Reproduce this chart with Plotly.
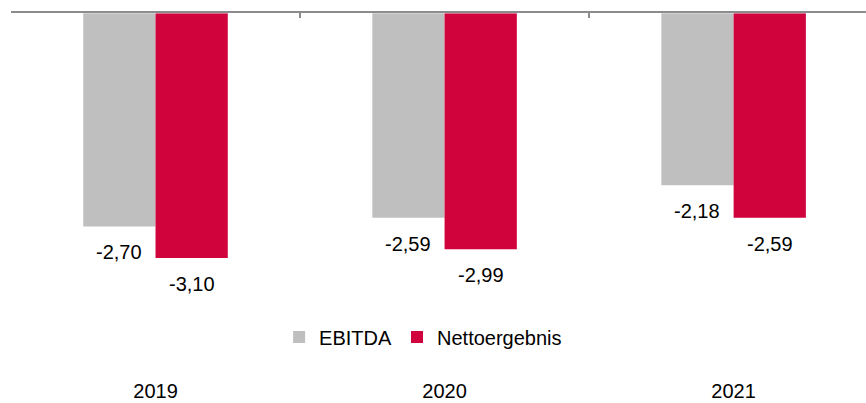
import plotly.graph_objects as go

years = ["2019", "2020", "2021"]
ebitda = [-2.70, -2.59, -2.18]
netto = [-3.10, -2.99, -2.59]
ebitda_labels = ["-2,70", "-2,59", "-2,18"]
netto_labels = ["-3,10", "-2,99", "-2,59"]

GRAY = "#BFBFBF"
RED = "#D0033C"
FONT = "Liberation Sans, Arial, sans-serif"

fig = go.Figure()
fig.add_trace(go.Bar(x=years, y=ebitda, name="EBITDA", marker_color=GRAY,
                     marker_line_width=0))
fig.add_trace(go.Bar(x=years, y=netto, name="Nettoergebnis", marker_color=RED,
                     marker_line_width=0))

# value labels below bar ends
for i, (v, t) in enumerate(zip(ebitda, ebitda_labels)):
    fig.add_annotation(x=i - 0.125, y=v, xref="x", yref="y", text=t, showarrow=False,
                       yanchor="middle", yshift=-26, font=dict(size=20, color="#000"))
for i, (v, t) in enumerate(zip(netto, netto_labels)):
    fig.add_annotation(x=i + 0.125, y=v, xref="x", yref="y", text=t, showarrow=False,
                       yanchor="middle", yshift=-26, font=dict(size=20, color="#000"))

# invisible trace on the top axis for line + boundary ticks
fig.add_trace(go.Bar(x=years, y=[0, 0, 0], xaxis="x2", yaxis="y", showlegend=False,
                     hoverinfo="skip", marker_color="rgba(0,0,0,0)"))

fig.update_layout(
    width=866, height=403,
    margin=dict(l=11, r=0, t=13, b=28),
    paper_bgcolor="white", plot_bgcolor="white",
    font=dict(family=FONT, size=20, color="#000"),
    barmode="group", bargap=0.5, bargroupgap=0,
    showlegend=True,
    legend=dict(orientation="h", x=0.482, xanchor="center", y=0.105, yanchor="middle",
                font=dict(size=20), bgcolor="rgba(0,0,0,0)", itemwidth=30,
                traceorder="normal"),
    xaxis=dict(type="category", range=[-0.5, 2.458], showline=False, showgrid=False,
               ticks="", tickfont=dict(size=20), zeroline=False, ticklabelstandoff=2),
    xaxis2=dict(type="category", range=[-0.5, 2.458], overlaying="x", side="top",
                showline=True, linecolor="#8C8C8C", linewidth=1.5,
                ticks="inside", tickson="boundaries", ticklen=5, tickcolor="#8C8C8C",
                tickwidth=1.5, showticklabels=False, showgrid=False),
    yaxis=dict(range=[-4.58, 0], visible=False, showgrid=False, zeroline=False),
)

fig.write_html("out.html")
